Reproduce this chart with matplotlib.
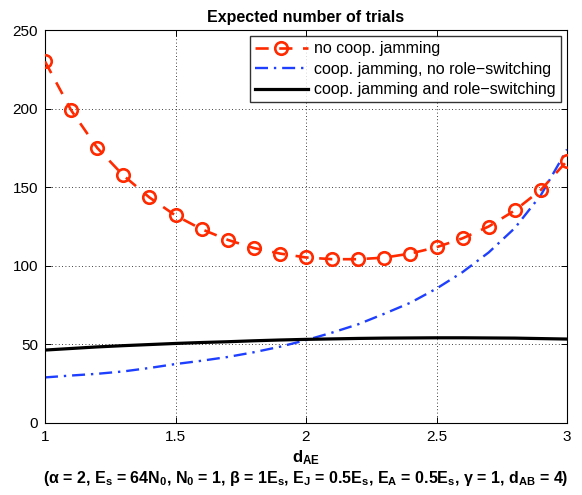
import matplotlib

matplotlib.use("Agg")

import matplotlib.pyplot as plt
import numpy as np

plt.rcParams["font.family"] = ["Liberation Sans", "DejaVu Sans"]
plt.rcParams["mathtext.fontset"] = "custom"
plt.rcParams["mathtext.rm"] = "Liberation Sans"
plt.rcParams["mathtext.it"] = "Liberation Sans:italic"
plt.rcParams["mathtext.bf"] = "Liberation Sans:bold"

# distance A-E, sampled every 0.1
d_ae = np.round(np.arange(1.0, 3.0001, 0.1), 1)

no_coop = [230, 199, 175, 157.5, 143.5, 132, 123.3, 116.5, 111.3, 107.8, 105.3,
           104.2, 104.2, 105.2, 107.8, 111.8, 117.5, 125, 135.2, 148.3, 166.7]
coop_no_switch = [29, 30.2, 31.3, 32.8, 35, 37.5, 39.6, 42, 45, 48.5, 52.7,
                  57.5, 62.8, 69.5, 76.5, 85.5, 96, 108.5, 124, 145, 174]
coop_switch = [46.4, 47.4, 48.4, 49.2, 49.9, 50.6, 51.2, 51.7, 52.3, 52.8, 53.2,
               53.5, 53.8, 54.0, 54.1, 54.2, 54.2, 54.1, 54.0, 53.7, 53.4]

labels = ["no coop. jamming",
          "coop. jamming, no role\u2212switching",
          "coop. jamming and role\u2212switching"]

fig = plt.figure(figsize=(5.82, 4.95), dpi=100)
ax = fig.add_axes([45 / 582, 1 - 423 / 495, 522 / 582, 393 / 495])

ax.plot(d_ae, no_coop, color="#ff2a00", linestyle=(0, (5, 4)), linewidth=1.9,
        marker="o", markersize=9, markerfacecolor="none", markeredgewidth=1.9,
        label=labels[0], zorder=3)
ax.plot(d_ae, coop_no_switch, color="#1f3fff", linestyle=(0, (5.5, 2.5, 1, 2.5)),
        linewidth=1.7, label=labels[1], zorder=2)
ax.plot(d_ae, coop_switch, color="black", linestyle="-", linewidth=2.3,
        label=labels[2], zorder=2)

ax.set_xlim(1, 3)
ax.set_ylim(0, 250)
ax.set_xticks([1, 1.5, 2, 2.5, 3])
ax.set_xticklabels(["1", "1.5", "2", "2.5", "3"])
ax.set_yticks([0, 50, 100, 150, 200, 250])
ax.tick_params(direction="in", top=True, right=True, length=4, width=0.7,
               labelsize=11, pad=5)
ax.grid(True, color="black", linestyle=(0, (1, 3)), linewidth=0.6)
for sp in ax.spines.values():
    sp.set_linewidth(0.8)

ax.set_title("Expected number of trials", fontsize=11.5, fontweight="bold", pad=6)
ax.set_xlabel(r"d$_{\mathbf{AE}}$", fontsize=12, fontweight="bold", labelpad=3)
fig.text(306 / 582, 1 - 478 / 495,
         "(\u03b1 = 2, E$_\\mathbf{s}$ = 64N$_\\mathbf{0}$, N$_\\mathbf{0}$ = 1, "
         "\u03b2 = 1E$_\\mathbf{s}$, E$_\\mathbf{J}$ = 0.5E$_\\mathbf{s}$, "
         "E$_\\mathbf{A}$ = 0.5E$_\\mathbf{s}$, \u03b3 = 1, d$_\\mathbf{AB}$ = 4)",
         ha="center", va="center", fontsize=11.5, fontweight="bold")

leg = ax.legend(loc="upper right", fontsize=11.5, frameon=True, fancybox=False,
                borderpad=0.3, labelspacing=0.35, handlelength=3.3,
                handletextpad=0.4, borderaxespad=0.4)
leg.get_frame().set_edgecolor("black")
leg.get_frame().set_linewidth(1.0)

fig.savefig("out.png", dpi=100)
